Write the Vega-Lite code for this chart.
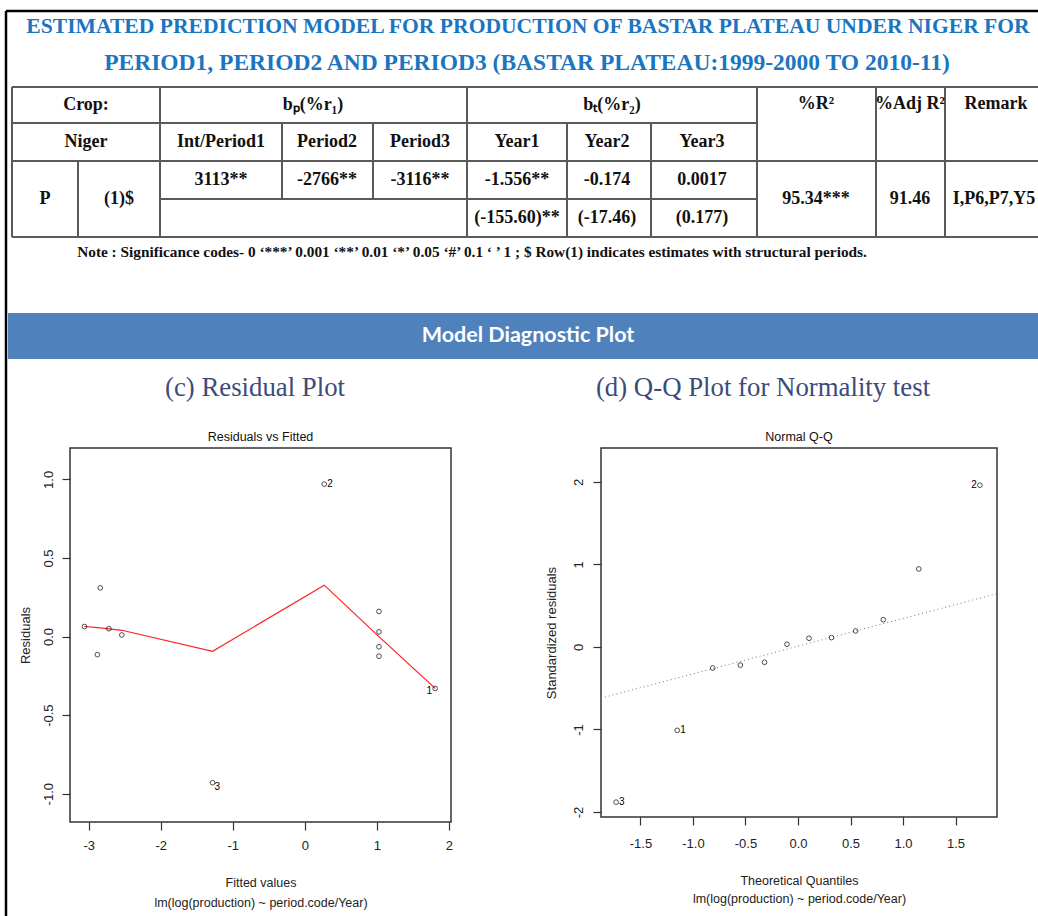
{
  "$schema": "https://vega.github.io/schema/vega-lite/v6.json",
  "padding": 0,
  "background": "white",
  "bounds": "flush",
  "spacing": 0,
  "config": {
    "view": {"stroke": null},
    "axis": {
      "domain": false,
      "grid": false,
      "ticks": true,
      "tickColor": "#333",
      "tickSize": 8,
      "tickWidth": 1.2,
      "labelFont": "Liberation Sans",
      "labelFontSize": 13,
      "labelColor": "#222",
      "titleFont": "Liberation Sans",
      "titleFontSize": 12.5,
      "titleFontWeight": "normal",
      "titleColor": "#222"
    },
    "title": {"font": "Liberation Sans", "fontSize": 12.5, "fontWeight": "normal", "color": "#111", "offset": 5}
  },
  "datasets": {
    "border": [
      {"x": 6, "x2": 1038, "y": 11, "y2": 11},
      {"x": 6, "x2": 6, "y": 11, "y2": 448}
    ],
    "tableLines": [
      {"x": 12, "x2": 1038, "y": 87, "y2": 87},
      {"x": 12, "x2": 757, "y": 123, "y2": 123},
      {"x": 12, "x2": 1038, "y": 161, "y2": 161},
      {"x": 160, "x2": 757, "y": 199, "y2": 199},
      {"x": 12, "x2": 1038, "y": 237, "y2": 237},
      {"x": 12, "x2": 12, "y": 87, "y2": 237},
      {"x": 78, "x2": 78, "y": 161, "y2": 237},
      {"x": 160, "x2": 160, "y": 87, "y2": 237},
      {"x": 282, "x2": 282, "y": 123, "y2": 199},
      {"x": 373, "x2": 373, "y": 123, "y2": 199},
      {"x": 467, "x2": 467, "y": 87, "y2": 237},
      {"x": 567, "x2": 567, "y": 123, "y2": 237},
      {"x": 651, "x2": 651, "y": 123, "y2": 237},
      {"x": 757, "x2": 757, "y": 87, "y2": 237},
      {"x": 876, "x2": 876, "y": 87, "y2": 237},
      {"x": 945, "x2": 945, "y": 87, "y2": 237}
    ],
    "banner": [{"x": 8, "x2": 1038, "y": 313, "y2": 359}],
    "titleLine1": [
      {"t": "ESTIMATED PREDICTION MODEL FOR PRODUCTION OF BASTAR PLATEAU UNDER NIGER FOR", "x": 528, "y": 27}
    ],
    "titleLine2": [
      {"t": "PERIOD1, PERIOD2 AND PERIOD3 (BASTAR PLATEAU:1999-2000 TO 2010-11)", "x": 527, "y": 63}
    ],
    "tableText": [
      {"t": "Crop:", "x": 86, "y": 105},
      {"t": "bₚ(%r₁)", "x": 313, "y": 105},
      {"t": "bₜ(%r₂)", "x": 612, "y": 105},
      {"t": "%R²", "x": 816, "y": 104},
      {"t": "%Adj R²", "x": 910, "y": 104},
      {"t": "Remark", "x": 996, "y": 104},
      {"t": "Niger", "x": 86, "y": 142},
      {"t": "Int/Period1", "x": 221, "y": 142},
      {"t": "Period2", "x": 327, "y": 142},
      {"t": "Period3", "x": 420, "y": 142},
      {"t": "Year1", "x": 517, "y": 142},
      {"t": "Year2", "x": 607, "y": 142},
      {"t": "Year3", "x": 702, "y": 142},
      {"t": "3113**", "x": 221, "y": 180},
      {"t": "-2766**", "x": 327, "y": 180},
      {"t": "-3116**", "x": 420, "y": 180},
      {"t": "-1.556**", "x": 517, "y": 180},
      {"t": "-0.174", "x": 607, "y": 180},
      {"t": "0.0017", "x": 702, "y": 180},
      {"t": "(-155.60)**", "x": 517, "y": 218},
      {"t": "(-17.46)", "x": 607, "y": 218},
      {"t": "(0.177)", "x": 702, "y": 218},
      {"t": "P", "x": 45, "y": 199},
      {"t": "(1)$", "x": 119, "y": 199},
      {"t": "95.34***", "x": 816, "y": 199},
      {"t": "91.46", "x": 910, "y": 199},
      {"t": "I,P6,P7,Y5", "x": 994, "y": 199}
    ],
    "noteText": [
      {"t": "Note : Significance codes-  0 ‘***’ 0.001 ‘**’ 0.01 ‘*’ 0.05 ‘#’ 0.1 ‘ ’ 1 ; $ Row(1) indicates estimates with structural periods.", "x": 472, "y": 252}
    ],
    "bannerText": [{"t": "Model Diagnostic Plot", "x": 528, "y": 336}],
    "subTitles": [
      {"t": "(c) Residual Plot", "x": 255, "y": 388},
      {"t": "(d) Q-Q Plot for Normality test", "x": 763, "y": 388}
    ],
    "resid": [
      {"id": "", "fitted": -3.06, "resid": 0.064},
      {"id": "", "fitted": -2.84, "resid": 0.31},
      {"id": "", "fitted": -2.88, "resid": -0.115},
      {"id": "", "fitted": -2.72, "resid": 0.05},
      {"id": "", "fitted": -2.54, "resid": 0.01},
      {"id": "2", "fitted": 0.27, "resid": 0.97},
      {"id": "", "fitted": 1.03, "resid": 0.16},
      {"id": "", "fitted": 1.03, "resid": 0.03},
      {"id": "", "fitted": 1.03, "resid": -0.065},
      {"id": "", "fitted": 1.03, "resid": -0.125},
      {"id": "1", "fitted": 1.81, "resid": -0.33},
      {"id": "3", "fitted": -1.28, "resid": -0.93}
    ],
    "lowess": [
      {"fitted": -3.06, "smooth": 0.064},
      {"fitted": -2.88, "smooth": 0.057},
      {"fitted": -2.84, "smooth": 0.055},
      {"fitted": -2.72, "smooth": 0.049},
      {"fitted": -2.54, "smooth": 0.04},
      {"fitted": -1.28, "smooth": -0.094},
      {"fitted": 0.27, "smooth": 0.327},
      {"fitted": 1.03, "smooth": 0.0},
      {"fitted": 1.81, "smooth": -0.33}
    ],
    "qq": [
      {"id": "3", "theo": -1.732, "std": -1.88},
      {"id": "1", "theo": -1.150, "std": -1.01},
      {"id": "", "theo": -0.812, "std": -0.255},
      {"id": "", "theo": -0.549, "std": -0.22},
      {"id": "", "theo": -0.319, "std": -0.186},
      {"id": "", "theo": -0.105, "std": 0.033},
      {"id": "", "theo": 0.105, "std": 0.105},
      {"id": "", "theo": 0.319, "std": 0.113},
      {"id": "", "theo": 0.549, "std": 0.194},
      {"id": "", "theo": 0.812, "std": 0.33},
      {"id": "", "theo": 1.150, "std": 0.945},
      {"id": "2", "theo": 1.732, "std": 1.96}
    ],
    "qqline": [
      {"theo": -1.876, "std": -0.62},
      {"theo": 1.895, "std": 0.645}
    ]
  },
  "vconcat": [
    {
      "width": 1038,
      "height": 448,
      "layer": [
        {
          "data": {"name": "banner"},
          "mark": {"type": "rect", "color": "#4F81BD"},
          "encoding": {
            "x": {"field": "x", "type": "quantitative", "scale": {"domain": [0, 1038], "nice": false, "zero": false}, "axis": null},
            "x2": {"field": "x2"},
            "y": {"field": "y", "type": "quantitative", "scale": {"domain": [0, 448], "nice": false, "zero": false, "reverse": true}, "axis": null},
            "y2": {"field": "y2"}
          }
        },
        {
          "data": {"name": "border"},
          "mark": {"type": "rule", "color": "#000", "strokeWidth": 2.5},
          "encoding": {
            "x": {"field": "x", "type": "quantitative", "axis": null},
            "x2": {"field": "x2"},
            "y": {"field": "y", "type": "quantitative", "axis": null},
            "y2": {"field": "y2"}
          }
        },
        {
          "data": {"name": "tableLines"},
          "mark": {"type": "rule", "color": "#5a5a5a", "strokeWidth": 2},
          "encoding": {
            "x": {"field": "x", "type": "quantitative", "axis": null},
            "x2": {"field": "x2"},
            "y": {"field": "y", "type": "quantitative", "axis": null},
            "y2": {"field": "y2"}
          }
        },
        {
          "data": {"name": "titleLine1"},
          "mark": {"type": "text", "font": "Liberation Serif", "fontWeight": "bold", "fontSize": 21.6, "color": "#1B75C0", "align": "center", "baseline": "middle"},
          "encoding": {
            "x": {"field": "x", "type": "quantitative", "axis": null},
            "y": {"field": "y", "type": "quantitative", "axis": null},
            "text": {"field": "t"}
          }
        },
        {
          "data": {"name": "titleLine2"},
          "mark": {"type": "text", "font": "Liberation Serif", "fontWeight": "bold", "fontSize": 23.5, "color": "#1B75C0", "align": "center", "baseline": "middle"},
          "encoding": {
            "x": {"field": "x", "type": "quantitative", "axis": null},
            "y": {"field": "y", "type": "quantitative", "axis": null},
            "text": {"field": "t"}
          }
        },
        {
          "data": {"name": "tableText"},
          "mark": {"type": "text", "font": "Liberation Serif", "fontWeight": "bold", "fontSize": 18, "color": "#111", "align": "center", "baseline": "middle"},
          "encoding": {
            "x": {"field": "x", "type": "quantitative", "axis": null},
            "y": {"field": "y", "type": "quantitative", "axis": null},
            "text": {"field": "t"}
          }
        },
        {
          "data": {"name": "noteText"},
          "mark": {"type": "text", "font": "Liberation Serif", "fontWeight": "bold", "fontSize": 15.3, "color": "#111", "align": "center", "baseline": "middle"},
          "encoding": {
            "x": {"field": "x", "type": "quantitative", "axis": null},
            "y": {"field": "y", "type": "quantitative", "axis": null},
            "text": {"field": "t"}
          }
        },
        {
          "data": {"name": "bannerText"},
          "mark": {"type": "text", "font": "Liberation Sans Narrow, Lato, sans-serif", "fontWeight": "bold", "fontSize": 21.5, "color": "white", "align": "center", "baseline": "middle"},
          "encoding": {
            "x": {"field": "x", "type": "quantitative", "axis": null},
            "y": {"field": "y", "type": "quantitative", "axis": null},
            "text": {"field": "t"}
          }
        },
        {
          "data": {"name": "subTitles"},
          "mark": {"type": "text", "font": "Liberation Serif", "fontSize": 26.8, "color": "#3D4B7A", "align": "center", "baseline": "middle"},
          "encoding": {
            "x": {"field": "x", "type": "quantitative", "axis": null},
            "y": {"field": "y", "type": "quantitative", "axis": null},
            "text": {"field": "t"}
          }
        }
      ]
    },
    {
      "bounds": "flush",
      "spacing": 0,
      "hconcat": [
        {
          "width": 70,
          "height": 468,
          "data": {"values": [{"x": 6, "y": 0, "y2": 468}]},
          "mark": {"type": "rule", "color": "#000", "strokeWidth": 2.5},
          "encoding": {
            "x": {"field": "x", "type": "quantitative", "scale": {"domain": [0, 70], "nice": false, "zero": false}, "axis": null},
            "y": {"field": "y", "type": "quantitative", "scale": {"domain": [0, 468], "nice": false, "reverse": true}, "axis": null},
            "y2": {"field": "y2"}
          }
        },
        {
          "width": 381,
          "height": 374,
          "title": "Residuals vs Fitted",
          "view": {"stroke": "#333", "strokeWidth": 1.5},
          "layer": [
            {
              "mark": {"type": "rule", "color": "#aaa", "strokeDash": [1, 3], "strokeWidth": 1},
              "encoding": {"y": {"datum": 0, "type": "quantitative"}}
            },
            {
              "data": {"name": "lowess"},
              "mark": {"type": "line", "color": "#ff2020", "strokeWidth": 1.2},
              "encoding": {
                "x": {"field": "fitted", "type": "quantitative"},
                "y": {"field": "smooth", "type": "quantitative"}
              }
            },
            {
              "data": {"name": "resid"},
              "mark": {"type": "point", "shape": "circle", "filled": false, "color": "#000", "size": 22, "strokeWidth": 1},
              "encoding": {
                "x": {"field": "fitted", "type": "quantitative", "title": ["Fitted values", "lm(log(production) ~ period.code/Year)"],
                  "scale": {"domain": [-3.26, 2.03], "nice": false, "zero": false},
                  "axis": {"values": [-3, -2, -1, 0, 1, 2], "format": "d", "labelPadding": 9, "titlePadding": 24, "titleLineHeight": 20, "labelExpr": "replace(datum.label, '\u2212', '-')"}},
                "y": {"field": "resid", "type": "quantitative", "title": "Residuals",
                  "scale": {"domain": [-1.18, 1.2], "nice": false, "zero": false},
                  "axis": {"values": [-1, -0.5, 0, 0.5, 1], "format": ".1f", "labelAngle": -90, "labelAlign": "center", "labelBaseline": "bottom", "labelPadding": 7, "titlePadding": 10, "titleFontSize": 13, "labelExpr": "replace(datum.label, '\u2212', '-')"}}
              }
            },
            {
              "data": {"name": "resid"},
              "transform": [{"filter": "datum.id == '2'"}],
              "mark": {"type": "text", "font": "Liberation Sans", "fontSize": 10, "align": "left", "baseline": "middle", "dx": 3, "color": "#000"},
              "encoding": {"x": {"field": "fitted", "type": "quantitative"}, "y": {"field": "resid", "type": "quantitative"}, "text": {"field": "id"}}
            },
            {
              "data": {"name": "resid"},
              "transform": [{"filter": "datum.id == '3'"}],
              "mark": {"type": "text", "font": "Liberation Sans", "fontSize": 10, "align": "left", "baseline": "middle", "dx": 2, "dy": 4, "color": "#000"},
              "encoding": {"x": {"field": "fitted", "type": "quantitative"}, "y": {"field": "resid", "type": "quantitative"}, "text": {"field": "id"}}
            },
            {
              "data": {"name": "resid"},
              "transform": [{"filter": "datum.id == '1'"}],
              "mark": {"type": "text", "font": "Liberation Sans", "fontSize": 10, "align": "right", "baseline": "middle", "dx": -3, "dy": 3, "color": "#000"},
              "encoding": {"x": {"field": "fitted", "type": "quantitative"}, "y": {"field": "resid", "type": "quantitative"}, "text": {"field": "id"}}
            }
          ]
        },
        {
          "width": 150,
          "height": 10,
          "data": {"values": []},
          "mark": "point"
        },
        {
          "width": 396,
          "height": 369,
          "title": "Normal Q-Q",
          "view": {"stroke": "#333", "strokeWidth": 1.5},
          "layer": [
            {
              "data": {"name": "qqline"},
              "mark": {"type": "line", "color": "#777", "strokeDash": [1, 3], "strokeWidth": 1},
              "encoding": {
                "x": {"field": "theo", "type": "quantitative"},
                "y": {"field": "std", "type": "quantitative"}
              }
            },
            {
              "data": {"name": "qq"},
              "mark": {"type": "point", "shape": "circle", "filled": false, "color": "#000", "size": 22, "strokeWidth": 1},
              "encoding": {
                "x": {"field": "theo", "type": "quantitative", "title": ["Theoretical Quantiles", "lm(log(production) ~ period.code/Year)"],
                  "scale": {"domain": [-1.876, 1.895], "nice": false, "zero": false},
                  "axis": {"values": [-1.5, -1, -0.5, 0, 0.5, 1, 1.5], "format": ".1f", "labelPadding": 12, "titlePadding": 24, "titleLineHeight": 18, "labelExpr": "replace(datum.label, '\u2212', '-')"}},
                "y": {"field": "std", "type": "quantitative", "title": "Standardized residuals",
                  "scale": {"domain": [-2.06, 2.41], "nice": false, "zero": false},
                  "axis": {"values": [-2, -1, 0, 1, 2], "format": "d", "labelAngle": -90, "labelAlign": "center", "labelBaseline": "bottom", "labelPadding": 8, "titlePadding": 14, "titleFontSize": 13, "labelExpr": "replace(datum.label, '\u2212', '-')"}}
              }
            },
            {
              "data": {"name": "qq"},
              "transform": [{"filter": "datum.id == '2'"}],
              "mark": {"type": "text", "font": "Liberation Sans", "fontSize": 10, "align": "right", "baseline": "middle", "dx": -3, "color": "#000"},
              "encoding": {"x": {"field": "theo", "type": "quantitative"}, "y": {"field": "std", "type": "quantitative"}, "text": {"field": "id"}}
            },
            {
              "data": {"name": "qq"},
              "transform": [{"filter": "datum.id == '1' || datum.id == '3'"}],
              "mark": {"type": "text", "font": "Liberation Sans", "fontSize": 10, "align": "left", "baseline": "middle", "dx": 3, "color": "#000"},
              "encoding": {"x": {"field": "theo", "type": "quantitative"}, "y": {"field": "std", "type": "quantitative"}, "text": {"field": "id"}}
            }
          ]
        }
      ]
    }
  ]
}
